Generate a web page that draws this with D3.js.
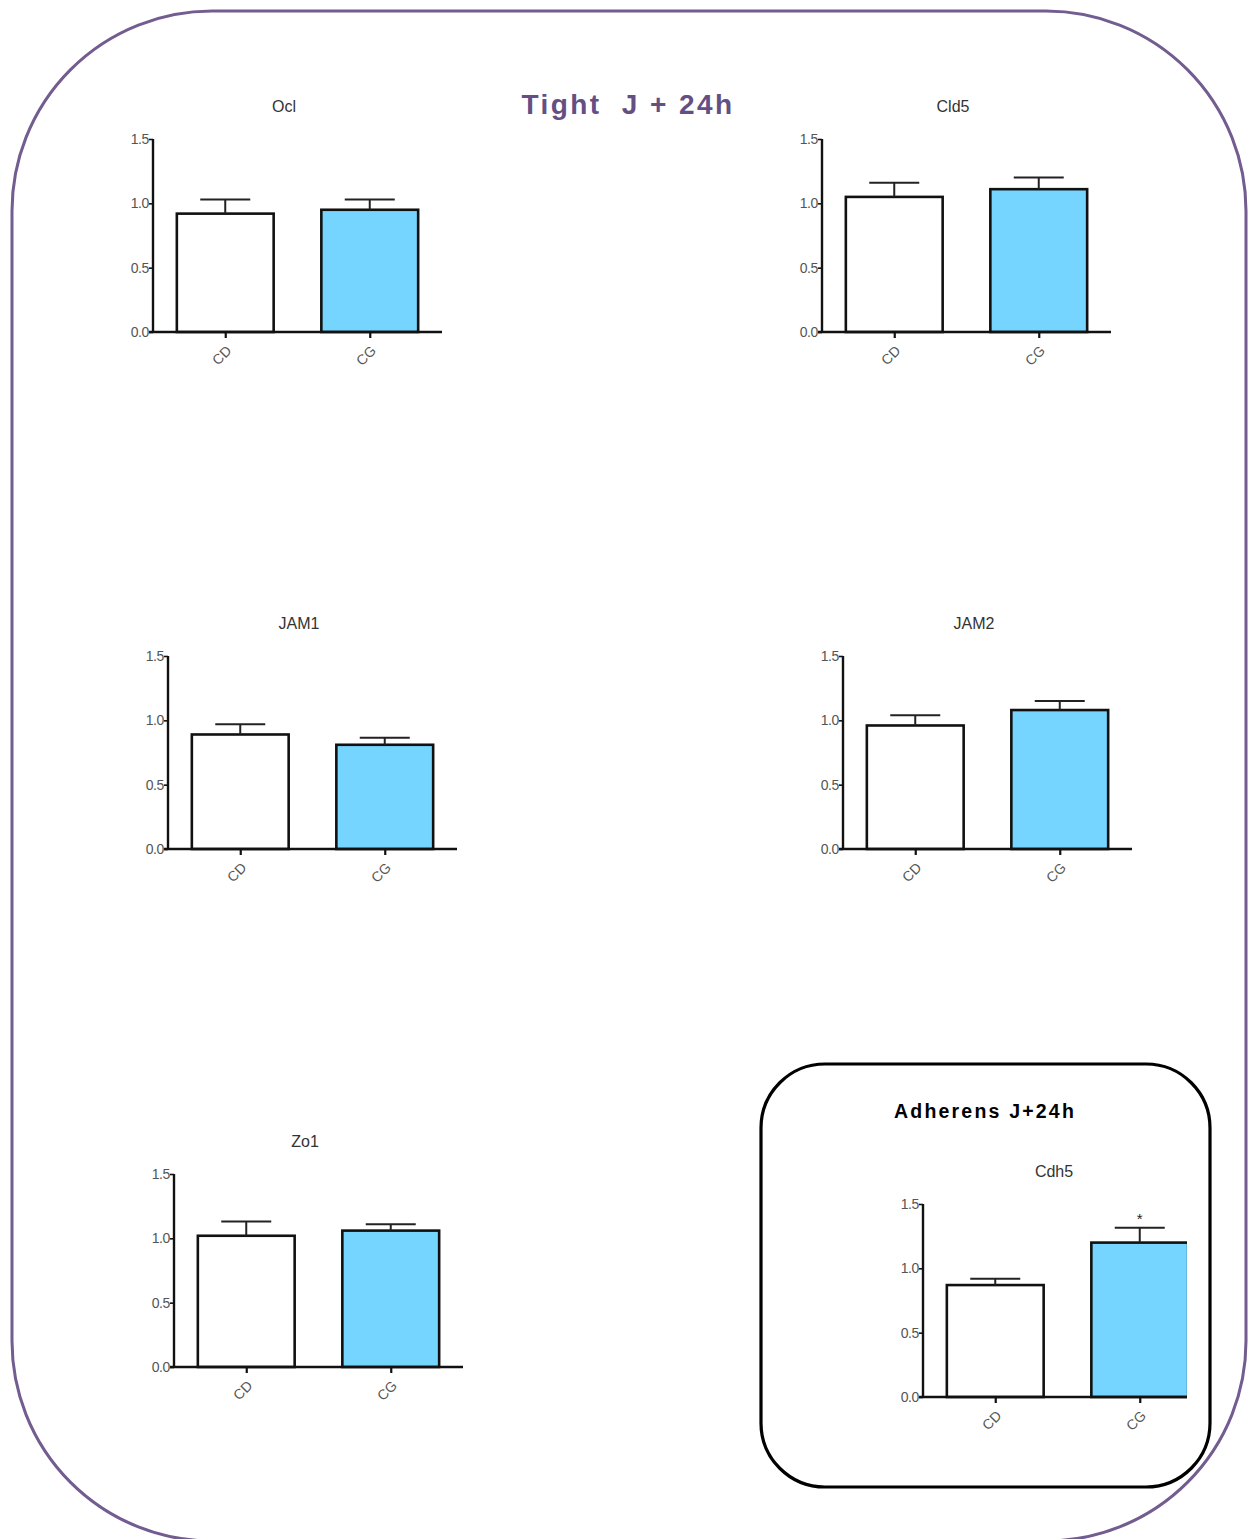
<!DOCTYPE html>
<html>
<head>
<meta charset="utf-8">
<script src="https://cdn.jsdelivr.net/npm/d3@7"></script>
<style>
  html, body { margin: 0; padding: 0; background: #fff; }
  svg { display: block; }
  text { font-family: "Liberation Sans", Arial, Helvetica, sans-serif; }
</style>
</head>
<body>
<svg id="fig" width="1249" height="1539"></svg>
<script>
// Relative mRNA expression, mean and SEM per gene, for the two groups
const genes  = ["Ocl", "Cld5", "JAM1", "JAM2", "Zo1", "Cdh5"];
const groups = ["CD", "CG"];
const meanCD = [0.92, 1.05, 0.89, 0.96, 1.02, 0.87];
const meanCG = [0.95, 1.11, 0.81, 1.08, 1.06, 1.20];
const semCD  = [0.11, 0.11, 0.08, 0.08, 0.11, 0.05];
const semCG  = [0.08, 0.09, 0.055, 0.07, 0.05, 0.115];
const significant = ["", "", "", "", "", "*"];
const yTicks = [0.0, 0.5, 1.0, 1.5];
const yMax = 1.5;

// Panel placement: origin of each axis pair (x of y-axis, y of baseline)
const panelOrigin = [
  [153, 332], [822, 332],
  [168, 849], [843, 849],
  [174, 1367], [923, 1397]
];
const plotW = 289, plotH = 193;
const groupFill = { CD: "#ffffff", CG: "#76d5fe" };
const tickFont = "'Liberation Sans', Arial, sans-serif";

const svg = d3.select("#fig");

// Outer frame around the tight-junction figure
svg.append("rect")
  .attr("x", 12).attr("y", 11).attr("width", 1234).attr("height", 1530)
  .attr("rx", 200).attr("ry", 200)
  .attr("fill", "none").attr("stroke", "#725c90").attr("stroke-width", 3);

svg.append("text")
  .attr("x", 628).attr("y", 114)
  .attr("text-anchor", "middle")
  .attr("font-size", 28).attr("font-weight", "bold")
  .attr("letter-spacing", 2.4)
  .attr("fill", "#634f84")
  .style("white-space", "pre")
  .text("Tight  J + 24h");

// Inner frame for the adherens-junction panel
svg.append("rect")
  .attr("x", 761).attr("y", 1064).attr("width", 449).attr("height", 423)
  .attr("rx", 64).attr("ry", 64)
  .attr("fill", "none").attr("stroke", "#000").attr("stroke-width", 3.2);

svg.append("text")
  .attr("x", 985).attr("y", 1118)
  .attr("text-anchor", "middle")
  .attr("font-size", 19.5).attr("font-weight", "bold")
  .attr("letter-spacing", 2.2)
  .attr("fill", "#000")
  .text("Adherens J+24h");

// Right edge of the Cdh5 panel is cut at the frame's inner margin
svg.append("clipPath").attr("id", "cdh5clip")
  .append("rect").attr("width", 487).attr("height", 400);

genes.forEach((gene, i) => {
  const [ox, oy] = panelOrigin[i];
  const g = svg.append("g").attr("transform", `translate(${ox},${oy - plotH})`);
  if (gene === "Cdh5") g.attr("clip-path", "url(#cdh5clip)");
  const data = [
    { grp: "CD", mean: meanCD[i], sem: semCD[i], mark: "" },
    { grp: "CG", mean: meanCG[i], sem: semCG[i], mark: significant[i] }
  ];

  const x = d3.scalePoint().domain(groups).range([0, plotW]).padding(0.5);
  const barW = x.step() * 0.67;
  const y = d3.scaleLinear().domain([0, yMax]).range([plotH, 0]);

  // panel title
  g.append("text")
    .attr("x", 131).attr("y", -27)
    .attr("text-anchor", "middle")
    .attr("font-size", 16).attr("fill", "#333")
    .text(gene);

  // bars
  g.selectAll("rect.bar").data(data).enter().append("rect")
    .attr("class", "bar")
    .attr("x", d => x(d.grp) - barW / 2)
    .attr("y", d => y(d.mean))
    .attr("width", barW)
    .attr("height", d => y(0) - y(d.mean))
    .attr("fill", d => groupFill[d.grp])
    .attr("stroke", "#111").attr("stroke-width", 2.6);

  // SEM (upper whisker only)
  g.selectAll("line.err").data(data).enter().append("line")
    .attr("x1", d => x(d.grp)).attr("x2", d => x(d.grp))
    .attr("y1", d => y(d.mean)).attr("y2", d => y(d.mean + d.sem))
    .attr("stroke", "#222").attr("stroke-width", 2);
  g.selectAll("line.cap").data(data).enter().append("line")
    .attr("x1", d => x(d.grp) - 25).attr("x2", d => x(d.grp) + 25)
    .attr("y1", d => y(d.mean + d.sem)).attr("y2", d => y(d.mean + d.sem))
    .attr("stroke", "#222").attr("stroke-width", 2);

  // significance marker
  g.selectAll("text.sig").data(data.filter(d => d.mark)).enter().append("text")
    .attr("x", d => x(d.grp)).attr("y", d => y(d.mean + d.sem) - 4)
    .attr("text-anchor", "middle").attr("font-size", 15).attr("fill", "#222")
    .text(d => d.mark);

  // y axis
  const yAxis = d3.axisLeft(y).tickValues(yTicks).tickFormat(d3.format(".1f"))
    .tickSize(4).tickPadding(0);
  const ya = g.append("g").call(yAxis);
  ya.attr("font-size", null).attr("font-family", null);
  ya.select(".domain").attr("stroke", "#111").attr("stroke-width", 2.4)
    .attr("d", `M0,${plotH}V0`);
  ya.selectAll(".tick line").attr("stroke", "#111").attr("stroke-width", 1.6);
  ya.selectAll(".tick text").attr("font-size", 14).attr("fill", "#555")
    .attr("letter-spacing", -0.4)
    .attr("font-family", tickFont);

  // x axis
  const xAxis = d3.axisBottom(x).tickSize(6).tickPadding(0);
  const xa = g.append("g").attr("transform", `translate(0,${plotH})`).call(xAxis);
  xa.attr("font-size", null).attr("font-family", null);
  xa.select(".domain").attr("stroke", "#111").attr("stroke-width", 2.4)
    .attr("d", `M-4,0H${plotW}`);
  xa.selectAll(".tick text")
    .attr("font-size", 14).attr("fill", "#555")
    .attr("font-family", tickFont)
    .attr("text-anchor", "end")
    .attr("dy", null).attr("y", null)
    .attr("transform", "translate(4,17) rotate(-45)")
    .attr("dominant-baseline", "middle");
  xa.selectAll(".tick line").attr("stroke", "#111").attr("stroke-width", 2.2);
});

// clip rectangle, expressed in the Cdh5 panel's own coordinates
d3.select("#cdh5clip rect")
  .attr("x", 700 - panelOrigin[5][0])
  .attr("y", 1100 - (panelOrigin[5][1] - plotH))
  .attr("width", 1187 - 700);
</script>
</body>
</html>
